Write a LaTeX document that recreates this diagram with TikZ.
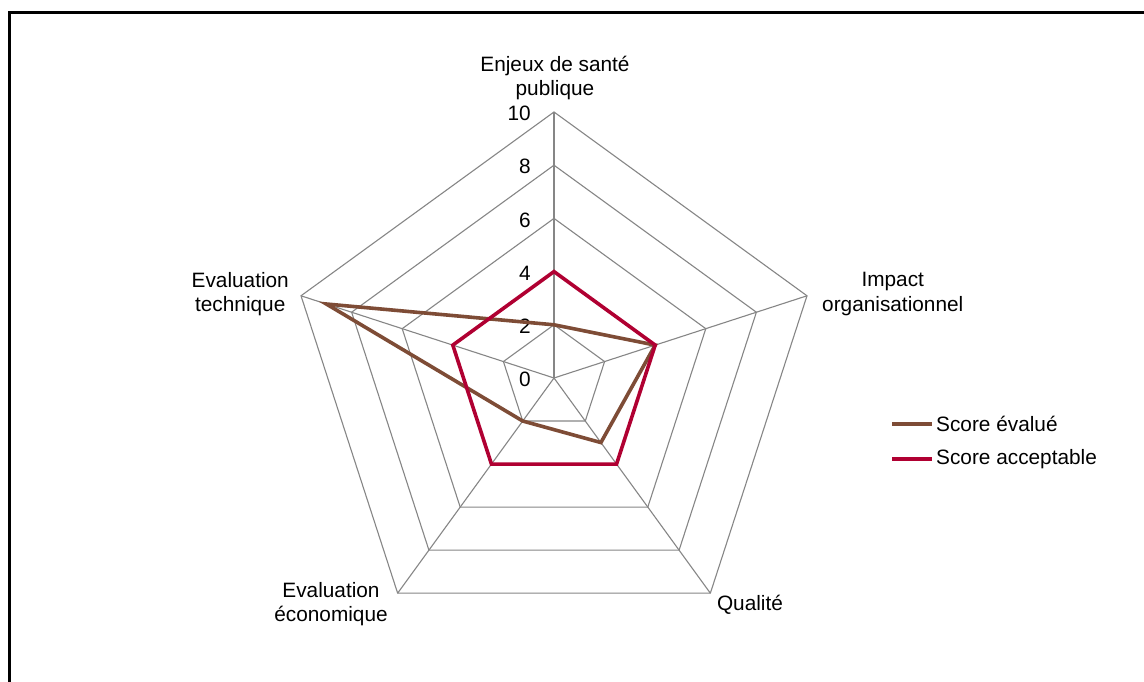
\documentclass[tikz,border=0pt]{standalone}
\usepackage{fontspec}
\setmainfont{Liberation Sans}
\definecolor{gridgray}{RGB}{134,134,134}
\definecolor{evalbrown}{RGB}{126,76,54}
\definecolor{accred}{RGB}{176,0,50}
\tikzset{
  gridline/.style={draw=gridgray, line width=1.1pt},
  serieseval/.style={draw=evalbrown, line width=3.6pt, line join=miter},
  seriesacc/.style={draw=accred, line width=3.6pt, line join=miter},
  lbl/.style={font=\fontsize{20.8}{24.5}\selectfont, align=center, inner sep=0pt, text=black},
  tick/.style={font=\fontsize{20.8}{24}\selectfont, anchor=east, inner sep=0pt, text=black}
}
\begin{document}
\begin{tikzpicture}[x=1pt,y=1pt]
\useasboundingbox (0,0) rectangle (1144,682);
\fill[white] (0,0) rectangle (1144,682);
% frame
\coordinate (FB) at (9,0);
\coordinate (FC) at (9,669);
\coordinate (FR) at (1144,669);
\draw[line width=3pt] (FB) -- (FC) -- (FR);
\begin{scope}[shift={(554,304)}]
  \def\u{26.6}
  \coordinate (O) at (0,0);
  % rings
  \foreach \r in {2,4,6,8,10}{
    \draw[gridline] (90:\r*\u) -- (18:\r*\u) -- (-54:\r*\u) -- (-126:\r*\u) -- (162:\r*\u) -- cycle;
  }
  % spokes
  \coordinate (A) at (90:10*\u);
  \coordinate (B) at (18:10*\u);
  \coordinate (C) at (-54:10*\u);
  \coordinate (D) at (-126:10*\u);
  \coordinate (E) at (162:10*\u);
  \foreach \p in {A,B,C,D,E}{\draw[gridline] (O) -- (\p);}
  % tick labels
  \foreach \r in {0,2,4,6,8,10}{
    \node[tick] (t\r) at (-23,\r*\u-1.5) {\r};
  }
  % series
  \draw[serieseval] (90:2*\u) -- (18:4*\u) -- (-54:3*\u) -- (-126:2*\u) -- (162:9*\u) -- cycle;
  \draw[seriesacc] (90:4*\u) -- (18:4*\u) -- (-54:4*\u) -- (-126:4*\u) -- (162:4*\u) -- cycle;
\end{scope}
% axis labels
\node[lbl] (LA) at (555,604) {Enjeux de santé\\publique};
\node[lbl, anchor=east] (LE) at (289,388) {Evaluation\\technique};
\node[lbl, anchor=west] (LB) at (822,388) {Impact\\organisationnel};
\node[lbl] (LD) at (331,78) {Evaluation\\économique};
\node[lbl] (LC) at (750,77) {Qualité};
% legend
\coordinate (g1a) at (892,258);
\coordinate (g1b) at (932,258);
\coordinate (g2a) at (892,223);
\coordinate (g2b) at (932,223);
\draw[serieseval] (g1a) -- (g1b);
\draw[seriesacc] (g2a) -- (g2b);
\node[lbl, anchor=west] (leg1) at (936,258) {Score évalué};
\node[lbl, anchor=west] (leg2) at (936,223) {Score acceptable};
\end{tikzpicture}
\end{document}
